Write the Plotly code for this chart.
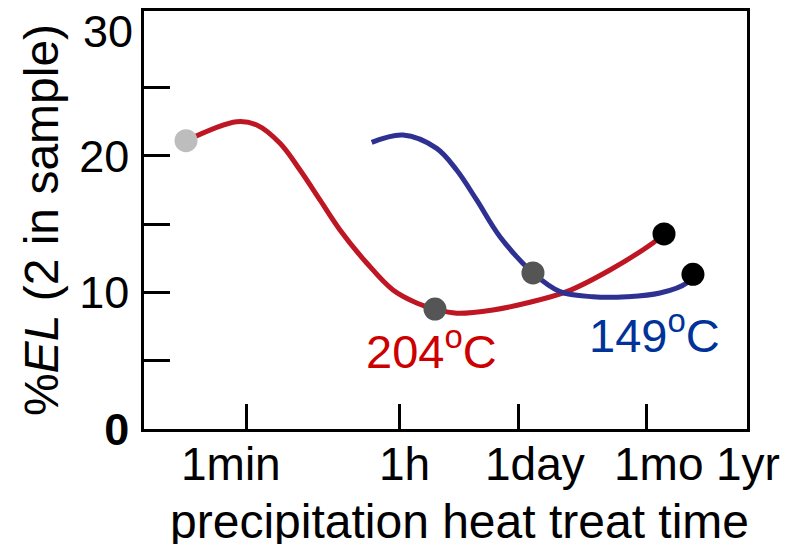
import numpy as np
import plotly.graph_objects as go

# ---- data (time in seconds, %EL) ----
red_t = [12.1, 46.8, 79.8, 148.6, 253.5, 431.5, 736.6, 1503, 3030, 5700, 9290,
         16560, 43650, 107400, 311900, 990800, 3.12e6, 4.19e6]
red_y = [21.12, 22.51, 22.27, 20.93, 18.97, 16.78, 14.58, 12.16, 10.18, 9.23, 8.79,
         8.48, 8.72, 9.23, 10.06, 11.65, 13.63, 14.29]

blue_t = [1718, 3955, 9720, 16560, 28250, 52600, 127000, 260800, 629500,
          1.546e6, 3.758e6, 7.67e6, 9.07e6]
blue_y = [21.0, 21.54, 20.56, 18.97, 16.78, 14.09, 11.43, 10.06, 9.69,
          9.69, 9.96, 10.70, 11.33]

pt_t = [12.1, 9290, 4.19e6, 127000, 9.07e6]
pt_y = [21.12, 8.79, 14.29, 11.43, 11.33]
pt_c = ["#BDBDBD", "#555555", "#000000", "#555555", "#000000"]

xtick_vals = [60, 3600, 86400, 2592000]          # 1min, 1h, 1day, 1mo
xlabel_text = ["1min", "1h", "1day", "1mo", "1yr"]
xlabel_pos = [40, 4110, 132500, 3.57e6, 3.94e7]   # where each label sits (s)

ytick_vals = [0, 5, 10, 15, 20, 25]
ytick_text = ["<b>0</b>", "", "10", "", "20", ""]

FONT = "Liberation Sans, Arial, sans-serif"
RED = "#BE1622"
BLUE = "#2E3192"

fig = go.Figure()
fig.add_trace(go.Scatter(x=red_t, y=red_y, mode="lines",
                         line=dict(color=RED, width=5, shape="spline", smoothing=1.0),
                         hoverinfo="skip", showlegend=False))
fig.add_trace(go.Scatter(x=blue_t, y=blue_y, mode="lines",
                         line=dict(color=BLUE, width=5, shape="spline", smoothing=1.0),
                         hoverinfo="skip", showlegend=False))
fig.add_trace(go.Scatter(x=pt_t, y=pt_y, mode="markers",
                         marker=dict(color=pt_c, size=23, line=dict(width=0)),
                         showlegend=False))

xr = [0.596, 7.584]
yr = [0, 30.62]

fig.update_layout(
    width=794, height=544,
    margin=dict(l=144, r=47, t=11, b=115, autoexpand=False),
    paper_bgcolor="white", plot_bgcolor="white",
    font=dict(family=FONT, size=44, color="black"),
    xaxis=dict(type="log", range=xr, tickvals=xtick_vals, showticklabels=False,
               ticks="inside", ticklen=25, tickwidth=2.5, tickcolor="black",
               showline=True, linecolor="black", linewidth=2.5, mirror=True,
               showgrid=False, zeroline=False, automargin=False),
    yaxis=dict(range=yr, tickvals=ytick_vals, ticktext=ytick_text,
               ticks="inside", ticklen=26, tickwidth=2.5, tickcolor="black",
               showline=True, linecolor="black", linewidth=2.5, mirror=True,
               showgrid=False, zeroline=False, ticklabelstandoff=3,
               tickfont=dict(size=45), automargin=False,
               title=dict(text="%<i>EL</i> (2 in sample)", font=dict(size=48), standoff=6)),
)

# "30" label at the top of the y scale (no tick mark there in the original)
fig.add_annotation(x=0, xref="paper", y=30, yref="y", text="30", showarrow=False,
                   xanchor="right", yanchor="middle", xshift=-9, yshift=-12,
                   font=dict(size=45))

for txt, pos in zip(xlabel_text, xlabel_pos):
    px = (np.log10(pos) - xr[0]) / (xr[1] - xr[0])
    fig.add_annotation(x=px, xref="paper", y=-0.0837, yref="paper",
                       text=txt, showarrow=False, xanchor="center", yanchor="middle",
                       font=dict(size=46))

fig.add_annotation(x=0.524, xref="paper", y=-0.222, yref="paper",
                   text="precipitation heat treat time", showarrow=False,
                   xanchor="center", yanchor="middle", font=dict(size=48))

fig.add_annotation(x=np.log10(8570), xref="x", y=5.93, yref="y",
                   text="204<sup>o</sup>C", showarrow=False, font=dict(size=47, color="#CC0000"))
fig.add_annotation(x=np.log10(3.29e6), xref="x", y=7.1, yref="y",
                   text="149<sup>o</sup>C", showarrow=False, font=dict(size=47, color="#003399"))

fig.write_html("out.html", config={"displayModeBar": False},
               post_script="document.body.style.margin='0';document.body.style.padding='0';")
